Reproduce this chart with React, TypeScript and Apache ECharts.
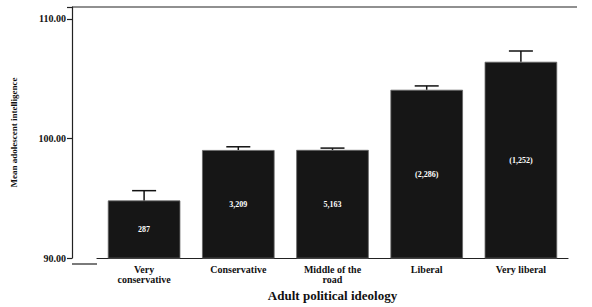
import React, { useEffect, useRef } from "react";
import * as echarts from "echarts";

const categories = ["Very\nconservative", "Conservative", "Middle of the\nroad", "Liberal", "Very liberal"];
const means = [94.82, 99.04, 99.05, 104.08, 106.42];
const upperError = [95.64, 99.31, 99.2, 104.4, 107.32];
const barLabels = ["287", "3,209", "5,163", "(2,286)", "(1,252)"];
const yTicks = [90, 100, 110];

const FONT = "'Liberation Serif', 'DejaVu Serif', serif";

export default function App() {
  const ref = useRef<HTMLDivElement>(null);
  useEffect(() => {
    if (!ref.current) return;
    const chart = echarts.init(ref.current, null, { renderer: "svg" });
    const gridLeft = 97;
    const gridRight = 24;
    const gridTop = 7;
    const gridBottom = 43;
    chart.setOption({
      animation: false,
      backgroundColor: "#ffffff",
      grid: { left: gridLeft, right: gridRight, top: gridTop, bottom: gridBottom },
      xAxis: {
        type: "category",
        data: categories,
        name: "Adult political ideology",
        nameLocation: "middle",
        nameGap: 29,
        nameTextStyle: { fontFamily: FONT, fontWeight: "bold", fontSize: 13, color: "#111" },
        axisLine: { lineStyle: { color: "#222", width: 1.2 } },
        axisTick: { alignWithLabel: true, length: 5, lineStyle: { color: "#222", width: 1.2 } },
        axisLabel: {
          fontFamily: FONT,
          fontWeight: "bold",
          fontSize: 10,
          color: "#111",
          margin: 6,
          lineHeight: 10,
          interval: 0,
        },
      },
      yAxis: {
        type: "value",
        min: 90,
        max: 111,
        interval: 10,
        offset: gridLeft - 72,
        name: "Mean adolescent intelligence",
        nameLocation: "middle",
        nameGap: 54,
        nameRotate: 90,
        nameTextStyle: { fontFamily: FONT, fontWeight: "bold", fontSize: 9, color: "#111" },
        axisLine: { show: true, lineStyle: { color: "#222", width: 1.2 } },
        axisTick: { show: true, length: 5, lineStyle: { color: "#222", width: 1.2 } },
        axisLabel: {
          fontFamily: FONT,
          fontWeight: "bold",
          fontSize: 10,
          color: "#111",
          margin: 6,
          formatter: (v: number) => (yTicks.includes(v) ? v.toFixed(2) : ""),
        },
        splitLine: { show: false },
      },
      series: [
        {
          type: "bar",
          data: means,
          barCategoryGap: "23%",
          itemStyle: { color: "#161616", borderColor: "#666", borderWidth: 0.8 },
          label: {
            show: true,
            position: "inside",
            color: "#ffffff",
            textBorderWidth: 0,
            fontFamily: FONT,
            fontWeight: "bold",
            fontSize: 8,
            formatter: (p: any) => barLabels[p.dataIndex],
          },
        },
        {
          type: "custom",
          data: means.map((m, i) => [i, m, upperError[i]]),
          renderItem: (params: any, api: any) => {
            const i = api.value(0);
            const lo = api.coord([i, api.value(1)]);
            const hi = api.coord([i, api.value(2)]);
            const half = 12;
            return {
              type: "group",
              children: [
                {
                  type: "line",
                  shape: { x1: lo[0], y1: lo[1], x2: hi[0], y2: hi[1] },
                  style: { stroke: "#111", lineWidth: 1.5 },
                },
                {
                  type: "line",
                  shape: { x1: hi[0] - half, y1: hi[1], x2: hi[0] + half, y2: hi[1] },
                  style: { stroke: "#111", lineWidth: 1.5 },
                },
              ],
            };
          },
          z: 5,
        },
      ],
      graphic: [
        {
          type: "line",
          shape: { x1: 72, y1: gridTop, x2: 577, y2: gridTop },
          style: { stroke: "#222", lineWidth: 1.2 },
        },
        {
          type: "line",
          shape: { x1: 72, y1: 307 - gridBottom, x2: gridLeft, y2: 307 - gridBottom },
          style: { stroke: "#222", lineWidth: 1.2 },
        },
      ],
    });
    return () => chart.dispose();
  }, []);
  return <div ref={ref} style={{ width: 592, height: 307, position: "absolute", left: 0, top: 0 }} />;
}
